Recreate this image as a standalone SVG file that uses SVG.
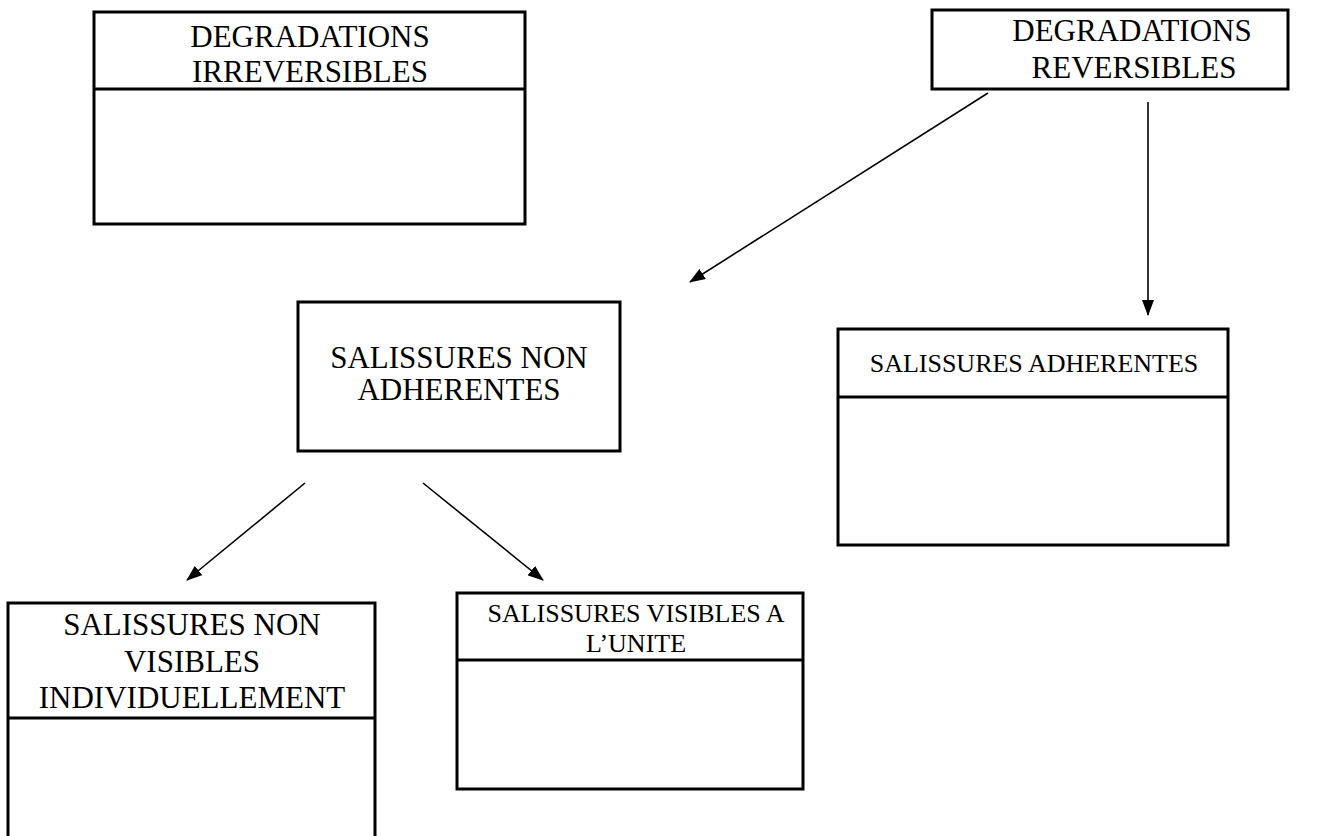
<svg xmlns="http://www.w3.org/2000/svg" width="1338" height="836" viewBox="0 0 1338 836">
<style>
.box{fill:#fff;stroke:#000;stroke-width:3}
.div{stroke:#000;stroke-width:3}
.t{font-family:"Liberation Serif","Times New Roman",serif;fill:#000;text-anchor:middle}
.big{font-size:31px}
.sm{font-size:26px}
.conn{stroke:#000;stroke-width:1.6;fill:none;marker-end:url(#ah)}
</style>
<defs>
<marker id="ah" markerUnits="userSpaceOnUse" markerWidth="16" markerHeight="12" refX="15" refY="6" orient="auto">
<path d="M0,0 L16,6 L0,12 z" fill="#000"/>
</marker>
</defs>
<rect width="1338" height="836" fill="#fff"/>
<g id="connectors">
<line class="conn" x1="988" y1="93" x2="690" y2="282"/>
<line class="conn" x1="1148" y1="102" x2="1148" y2="315"/>
<line class="conn" x1="305" y1="483" x2="187" y2="580"/>
<line class="conn" x1="423" y1="483" x2="543" y2="580"/>
</g>
<g id="degradations-irreversibles">
<rect class="box" x="94" y="12" width="431" height="212"/>
<line class="div" x1="94" y1="89" x2="525" y2="89"/>
<text class="t big" x="310" y="47">DEGRADATIONS</text>
<text class="t big" x="310" y="82">IRREVERSIBLES</text>
</g>
<g id="degradations-reversibles">
<rect class="box" x="932" y="10" width="356" height="79"/>
<text class="t big" x="1132" y="41">DEGRADATIONS</text>
<text class="t big" x="1134" y="78">REVERSIBLES</text>
</g>
<g id="salissures-non-adherentes">
<rect class="box" x="298" y="302" width="322" height="149"/>
<text class="t big" x="459" y="368">SALISSURES NON</text>
<text class="t big" x="459" y="400">ADHERENTES</text>
</g>
<g id="salissures-adherentes">
<rect class="box" x="838" y="329" width="390" height="216"/>
<line class="div" x1="838" y1="397" x2="1228" y2="397"/>
<text class="t sm" x="1034" y="372">SALISSURES ADHERENTES</text>
</g>
<g id="salissures-non-visibles">
<rect class="box" x="8" y="603" width="367" height="260"/>
<line class="div" x1="8" y1="718" x2="375" y2="718"/>
<text class="t big" x="192" y="635">SALISSURES NON</text>
<text class="t big" x="192" y="672">VISIBLES</text>
<text class="t big" x="192" y="708">INDIVIDUELLEMENT</text>
</g>
<g id="salissures-visibles">
<rect class="box" x="457" y="593" width="346" height="196"/>
<line class="div" x1="457" y1="660" x2="803" y2="660"/>
<text class="t sm" x="636" y="622">SALISSURES VISIBLES A</text>
<text class="t sm" x="636" y="652">L’UNITE</text>
</g>
</svg>
